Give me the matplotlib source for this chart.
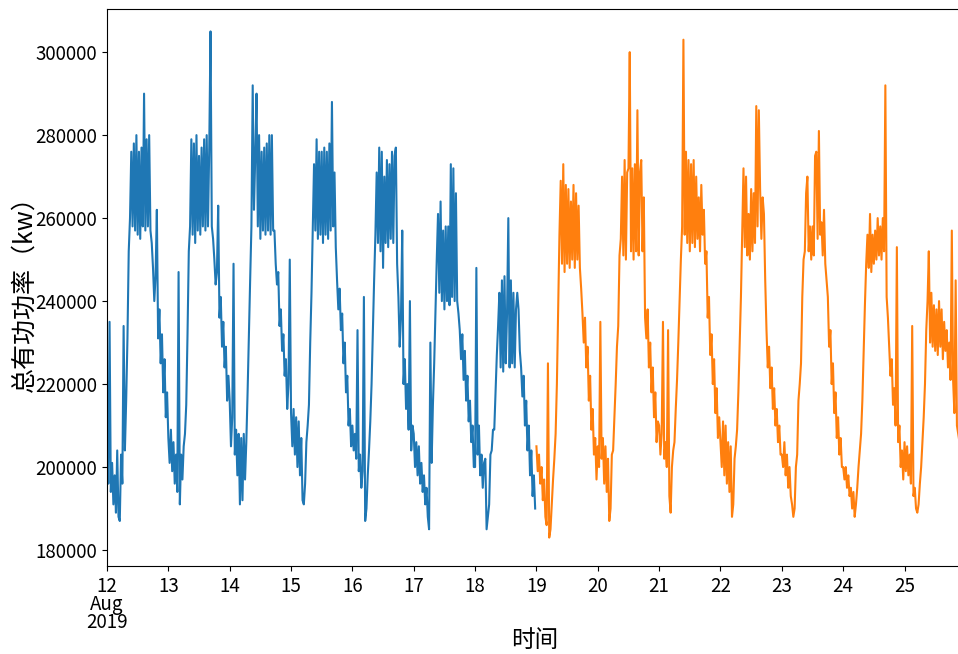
import numpy as np
import pandas as pd
import matplotlib
matplotlib.use('Agg')
import matplotlib.pyplot as plt

plt.rcParams['font.family'] = ['Noto Sans CJK SC', 'DejaVu Sans']
plt.rcParams['axes.unicode_minus'] = False

# total active power, half-hourly, in thousands of kW
aug12 = [210, 196, 235, 194, 201, 191, 198, 189, 204, 188, 187, 203,
         196, 234, 204, 216, 231, 252, 260, 276, 258, 278, 257, 280,
         256, 276, 255, 277, 258, 290, 257, 279, 258, 280, 257, 254,
         248, 240, 246, 262, 231, 238, 225, 232, 218, 226, 212, 218]
aug13 = [207, 201, 209, 199, 206, 196, 203, 194, 247, 191, 203, 197,
         205, 208, 215, 232, 252, 258, 279, 256, 278, 254, 280, 257,
         275, 256, 277, 258, 279, 257, 280, 258, 277, 305, 258, 255,
         250, 244, 247, 263, 236, 241, 229, 235, 224, 229, 216, 222]
aug14 = [216, 205, 212, 249, 203, 209, 198, 208, 191, 207, 192, 208,
         197, 206, 218, 232, 245, 258, 292, 262, 275, 290, 258, 280,
         255, 276, 257, 277, 256, 278, 257, 280, 256, 280, 257, 257,
         249, 244, 247, 234, 238, 228, 232, 222, 226, 214, 220, 250]
aug15 = [213, 205, 214, 203, 212, 200, 211, 198, 207, 192, 191, 196,
         206, 210, 215, 230, 242, 257, 273, 257, 279, 255, 276, 256,
         276, 254, 277, 256, 276, 255, 278, 257, 288, 258, 271, 253,
         245, 238, 243, 233, 237, 225, 230, 218, 222, 210, 214, 205]
aug16 = [210, 204, 208, 202, 233, 199, 203, 195, 199, 241, 187, 190,
         198, 204, 211, 220, 233, 245, 256, 271, 254, 277, 252, 276,
         248, 270, 254, 274, 253, 273, 255, 276, 254, 275, 277, 249,
         241, 229, 236, 257, 220, 226, 214, 220, 209, 240, 204, 210]
aug17 = [208, 200, 206, 198, 205, 196, 201, 194, 198, 191, 195, 188,
         185, 230, 201, 215, 225, 238, 250, 261, 242, 264, 240, 257,
         238, 258, 240, 258, 239, 273, 241, 272, 240, 266, 240, 237,
         233, 226, 232, 221, 228, 216, 222, 211, 216, 206, 210, 200]
aug18 = [200, 248, 203, 210, 198, 203, 195, 201, 202, 185, 188, 191,
         203, 204, 209, 209, 218, 227, 234, 242, 224, 245, 223, 246,
         225, 237, 260, 224, 245, 225, 242, 224, 238, 242, 238, 228,
         224, 217, 222, 210, 216, 204, 210, 198, 204, 193, 198, 190]
aug19 = [205, 199, 203, 196, 200, 192, 197, 188, 186, 225, 183, 185,
         191, 197, 202, 208, 220, 238, 256, 269, 249, 273, 247, 268,
         249, 267, 248, 264, 250, 268, 248, 266, 250, 263, 248, 243,
         237, 230, 236, 224, 229, 216, 222, 209, 214, 203, 207, 197]
aug20 = [205, 200, 235, 202, 207, 196, 205, 194, 202, 187, 190, 203,
         204, 212, 220, 229, 234, 251, 255, 270, 251, 274, 250, 271,
         272, 300, 252, 272, 250, 273, 252, 286, 251, 271, 274, 252,
         265, 236, 231, 238, 224, 230, 218, 224, 212, 218, 206, 211]
aug21 = [210, 203, 208, 235, 202, 206, 200, 233, 193, 189, 200, 204,
         206, 214, 221, 230, 240, 250, 258, 303, 256, 276, 254, 274,
         252, 273, 254, 274, 253, 270, 255, 265, 252, 268, 256, 262,
         249, 252, 236, 241, 227, 232, 220, 226, 213, 219, 207, 212]
aug22 = [206, 200, 211, 198, 210, 196, 206, 194, 205, 188, 191, 202,
         205, 209, 218, 230, 241, 256, 272, 253, 270, 251, 261, 250,
         267, 252, 266, 254, 287, 258, 286, 267, 255, 265, 261, 245,
         233, 224, 229, 219, 224, 214, 219, 210, 214, 206, 210, 203]
aug23 = [203, 200, 206, 198, 203, 195, 200, 193, 191, 188, 190, 200,
         203, 216, 220, 225, 241, 250, 252, 266, 270, 252, 258, 250,
         258, 251, 275, 276, 255, 281, 256, 259, 251, 262, 249, 245,
         241, 229, 233, 220, 225, 213, 218, 207, 212, 203, 207, 200]
aug24 = [200, 197, 200, 195, 198, 193, 195, 190, 194, 188, 191, 195,
         200, 204, 208, 216, 228, 239, 249, 256, 248, 261, 247, 256,
         249, 257, 250, 260, 251, 258, 250, 260, 252, 292, 241, 236,
         229, 222, 226, 215, 219, 210, 253, 206, 210, 200, 204, 197]
aug25 = [206, 199, 205, 198, 203, 196, 234, 193, 195, 190, 189, 191,
         196, 200, 206, 212, 220, 233, 240, 252, 230, 242, 229, 239,
         228, 238, 227, 240, 229, 238, 226, 235, 228, 233, 224, 230,
         221, 257, 221, 213, 245, 210, 208, 206, 205, 203, 201, 200]

train_days = [aug12, aug13, aug14, aug15, aug16, aug17, aug18]
test_days = [aug19, aug20, aug21, aug22, aug23, aug24, aug25]
day_labels = ['12\nAug\n2019', '13', '14', '15', '16', '17', '18',
              '19', '20', '21', '22', '23', '24', '25']

train = pd.Series(np.concatenate(train_days) * 1000.0,
                  index=pd.date_range('2019-08-12', periods=48 * 7, freq='30min'))
test = pd.Series(np.concatenate(test_days) * 1000.0,
                 index=pd.date_range('2019-08-19', periods=48 * 7, freq='30min'))

fig = plt.figure(figsize=(9.58, 6.54), dpi=100)
# axes runs past the right edge, like the cropped original
ax = fig.add_axes([107 / 958, 88 / 654, 857.6 / 958, 557 / 654])

ax.plot(train.index, train.values, color='#1f77b4', lw=1.5)
ax.plot(test.index, test.values, color='#ff7f0e', lw=1.5)

ax.set_xlim(train.index[0], test.index[-1])
ax.set_ylim(176150, 310400)
ax.set_yticks(range(180000, 300001, 20000))
ax.set_xticks(pd.date_range('2019-08-12', periods=len(day_labels), freq='D'))
ax.set_xticklabels(day_labels, linespacing=0.82)
ax.tick_params(labelsize=13.5)

ax.set_xlabel('时间', fontsize=17)
ax.set_ylabel('总有功功率（kw）', fontsize=18)
ax.xaxis.set_label_coords(0.499, -0.113)
ax.yaxis.set_label_coords(-0.081, 0.5)

fig.savefig('out.png', dpi=100)
